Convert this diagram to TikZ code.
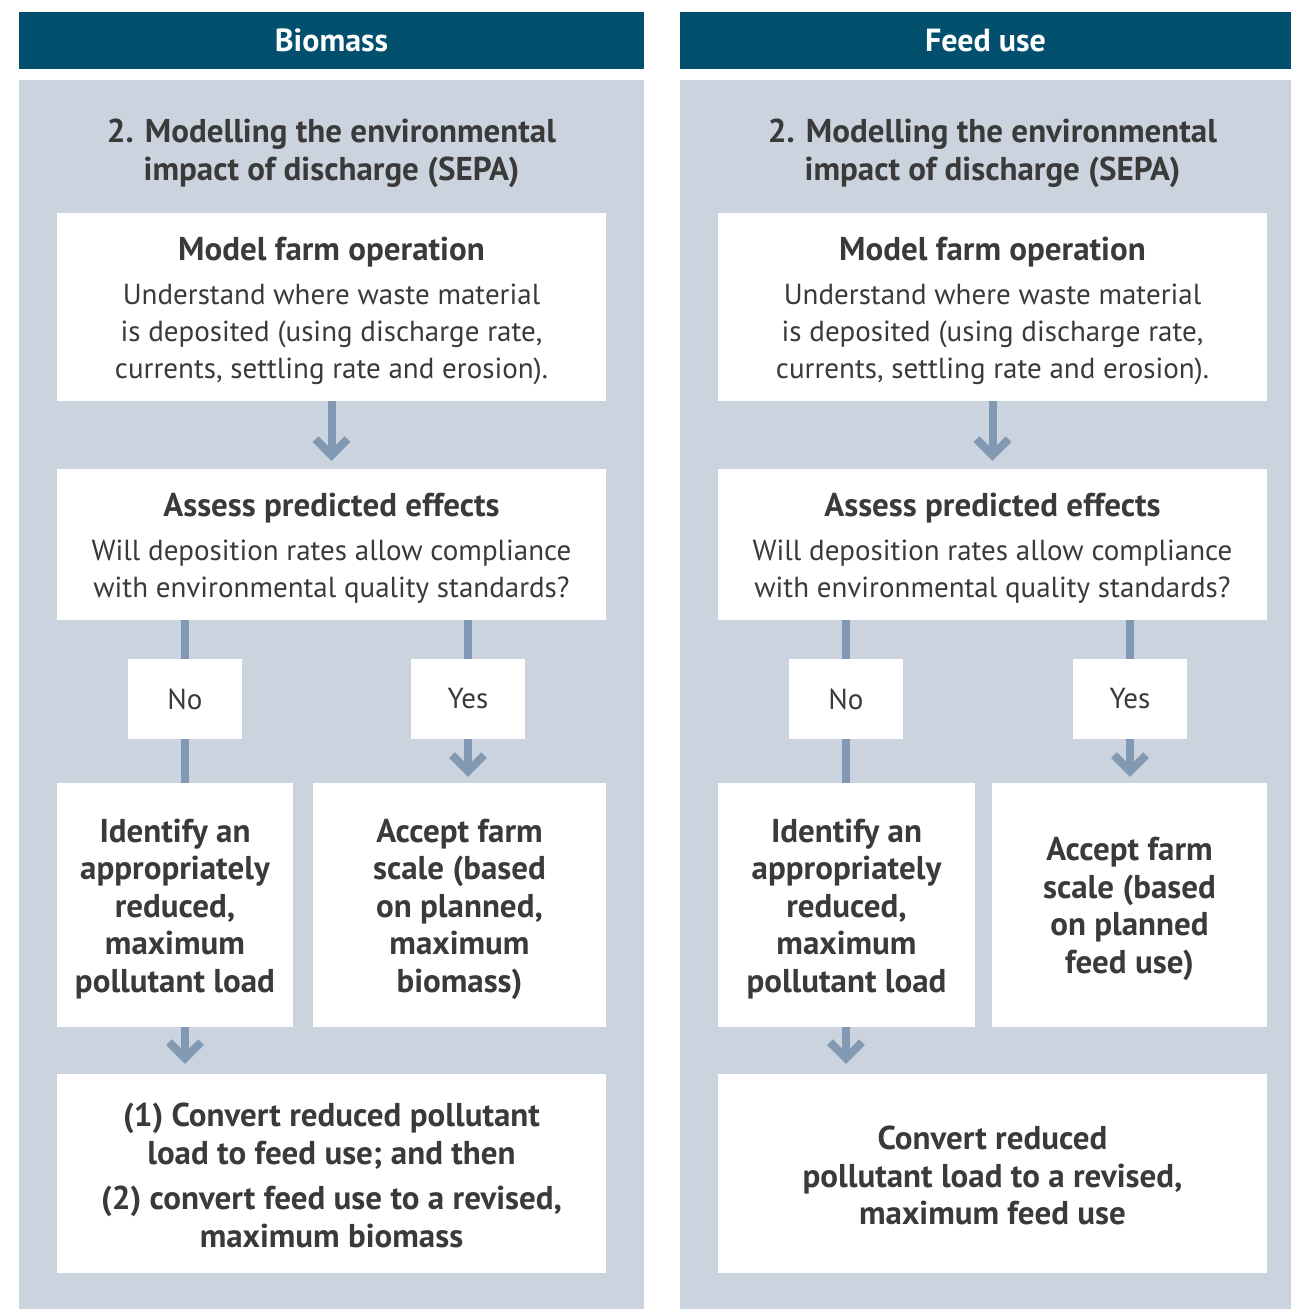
\documentclass[tikz,border=0pt]{standalone}
\usepackage{fontspec}
\setmainfont{PT Sans}
\usetikzlibrary{arrows.meta}
\definecolor{hdrblue}{HTML}{02506E}
\definecolor{panelgrey}{HTML}{CBD3DE}
\definecolor{arrc}{HTML}{8199B2}
\definecolor{txt}{HTML}{3A3A3A}
\newcommand\rsz{\fontsize{29}{37}\selectfont}
\newcommand\bsz{\bfseries\fontsize{33}{37.5}\selectfont}
\begin{document}
\begin{tikzpicture}[x=1pt,y=-1pt,
  panel/.style={fill=panelgrey, draw=none},
  hdr/.style={fill=hdrblue, text=white, inner sep=0, minimum height=57pt, font=\bfseries\fontsize{32}{36}\selectfont},
  ttl/.style={text=txt, align=center, inner sep=0, font=\bfseries\fontsize{33}{38}\selectfont},
  box/.style={fill=white, inner sep=0},
  tx/.style={text=txt, inner sep=0, align=center},
  rtx/.style={tx, font=\rsz},
  btx/.style={tx, font=\bsz},
  lbl/.style={box, text=txt, font=\rsz, minimum width=114pt, minimum height=80pt},
  conn/.style={draw=arrc, line width=8pt},
  arr/.style={conn, -{Straight Barb[length=16pt, width=32pt]}},
]
\useasboundingbox[fill=white] (0,0) rectangle (1291,1309);
% ---------- left panel ----------
\fill[panel] (19,80) rectangle (644,1309);
\node[hdr, minimum width=625pt] (hL) at (331.5,40.5) {Biomass};
\node[ttl] (tL) at (331.5,153) {2. Modelling the environmental\\impact of discharge (SEPA)};
\node[box, minimum width=549pt, minimum height=188pt] (b1L) at (331.5,307) {};
\node[rtx] (t1L) at ([yshift=-3.5pt]b1L.center)
  {{\bsz Model farm operation}\\[7pt]Understand where waste material\\is deposited (using discharge rate,\\currents, settling rate and erosion).};
\node[box, minimum width=549pt, minimum height=151pt] (b2L) at (331.5,544.5) {};
\node[rtx] (t2L) at ([yshift=-3.5pt]b2L.center)
  {{\bsz Assess predicted effects}\\[7pt]Will deposition rates allow compliance\\with environmental quality standards?};
\node[lbl] (noL) at (185,699) {No};
\node[lbl] (yesL) at (468,699) {Yes};
\node[box, minimum width=236pt, minimum height=244pt] (b3L) at (175,905) {};
\node[btx] (t3L) at ([yshift=-4pt]b3L.center)
  {Identify an\\appropriately\\reduced,\\maximum\\pollutant load};
\node[box, minimum width=293pt, minimum height=244pt] (b4L) at (459.5,905) {};
\node[btx] (t4L) at ([yshift=-4pt]b4L.center)
  {Accept farm\\scale (based\\on planned,\\maximum\\biomass)};
\node[box, minimum width=549pt, minimum height=199pt] (b5L) at (331.5,1173.5) {};
\node[btx] (t5L) at ([yshift=-2pt]b5L.center)
  {(1) Convert reduced pollutant\\load to feed use; and then\\[8pt](2) convert feed use to a revised,\\maximum biomass};
\draw[arr, shorten >=8pt] (b1L.south) -- (b2L.north);
\draw[conn] (noL.north |- b2L.south) -- (noL.north);
\draw[conn] (noL.south) -- (noL.south |- b3L.north);
\draw[conn] (yesL.north |- b2L.south) -- (yesL.north);
\draw[arr, shorten >=6pt] (yesL.south) -- (yesL.south |- b4L.north);
\draw[arr, shorten >=10pt] (noL.south |- b3L.south) -- (noL.south |- b5L.north);
% ---------- right panel ----------
\fill[panel] (680,80) rectangle (1291,1309);
\node[hdr, minimum width=611pt] (hR) at (985.5,40.5) {Feed use};
\node[ttl] (tR) at (992.5,153) {2. Modelling the environmental\\impact of discharge (SEPA)};
\node[box, minimum width=549pt, minimum height=188pt] (b1R) at (992.5,307) {};
\node[rtx] (t1R) at ([yshift=-3.5pt]b1R.center)
  {{\bsz Model farm operation}\\[7pt]Understand where waste material\\is deposited (using discharge rate,\\currents, settling rate and erosion).};
\node[box, minimum width=549pt, minimum height=151pt] (b2R) at (992.5,544.5) {};
\node[rtx] (t2R) at ([yshift=-3.5pt]b2R.center)
  {{\bsz Assess predicted effects}\\[7pt]Will deposition rates allow compliance\\with environmental quality standards?};
\node[lbl] (noR) at (846,699) {No};
\node[lbl] (yesR) at (1130,699) {Yes};
\node[box, minimum width=257pt, minimum height=244pt] (b3R) at (846.5,905) {};
\node[btx] (t3R) at ([yshift=-4pt]b3R.center)
  {Identify an\\appropriately\\reduced,\\maximum\\pollutant load};
\node[box, minimum width=275pt, minimum height=244pt] (b4R) at (1129.5,905) {};
\node[btx] (t4R) at ([yshift=-4pt]b4R.center)
  {Accept farm\\scale (based\\on planned\\feed use)};
\node[box, minimum width=549pt, minimum height=199pt] (b5R) at (992.5,1173.5) {};
\node[btx] (t5R) at ([yshift=-2pt]b5R.center)
  {Convert reduced\\pollutant load to a revised,\\maximum feed use};
\draw[arr, shorten >=8pt] (b1R.south) -- (b2R.north);
\draw[conn] (noR.north |- b2R.south) -- (noR.north);
\draw[conn] (noR.south) -- (noR.south |- b3R.north);
\draw[conn] (yesR.north |- b2R.south) -- (yesR.north);
\draw[arr, shorten >=6pt] (yesR.south) -- (yesR.south |- b4R.north);
\draw[arr, shorten >=10pt] (noR.south |- b3R.south) -- (noR.south |- b5R.north);
\end{tikzpicture}
\end{document}
